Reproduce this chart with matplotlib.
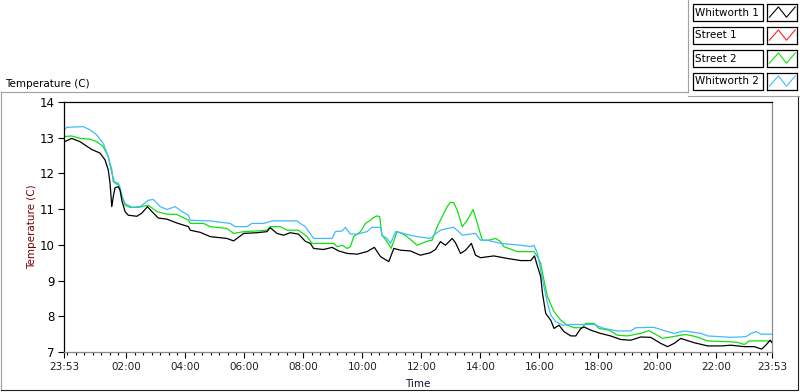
import matplotlib
matplotlib.use('Agg')
import matplotlib.pyplot as plt
from matplotlib.lines import Line2D
from matplotlib.patches import Rectangle

# hours since 23:53 (start of log)
w1_t = [0.0, 0.26, 0.54, 0.94, 1.22, 1.39, 1.50, 1.56, 1.62, 1.67, 1.73, 1.84, 1.90, 1.96,
        2.07, 2.18, 2.47, 2.64, 2.83, 2.98, 3.20, 3.49, 3.83, 4.22, 4.28, 4.62, 4.96, 5.52,
        5.75, 6.09, 6.54, 6.88, 6.99, 7.22, 7.44, 7.67, 7.95, 8.18, 8.35, 8.46, 8.80, 9.09,
        9.31, 9.60, 9.94, 10.27, 10.52, 10.73, 11.01, 11.18, 11.41, 11.74, 12.08, 12.42,
        12.59, 12.76, 12.93, 13.16, 13.27, 13.44, 13.61, 13.81, 13.95, 14.12, 14.57, 15.03,
        15.48, 15.82, 15.95, 16.02, 16.16, 16.22, 16.33, 16.50, 16.61, 16.78, 16.95, 17.18,
        17.35, 17.52, 17.63, 17.86, 18.19, 18.53, 18.87, 19.21, 19.55, 19.89, 20.23, 20.46,
        20.68, 20.91, 21.36, 21.82, 22.27, 22.61, 23.06, 23.40, 23.65, 23.79, 23.94, 24.0]
w1_v = [12.88, 12.98, 12.89, 12.67, 12.57, 12.38, 12.10, 11.73, 11.07, 11.35, 11.60, 11.63,
        11.53, 11.25, 10.93, 10.83, 10.80, 10.89, 11.07, 10.93, 10.75, 10.72, 10.61, 10.51,
        10.41, 10.35, 10.23, 10.18, 10.11, 10.32, 10.34, 10.37, 10.48, 10.32, 10.27, 10.34,
        10.30, 10.10, 10.04, 9.90, 9.87, 9.93, 9.83, 9.76, 9.74, 9.81, 9.93, 9.67, 9.53,
        9.90, 9.85, 9.83, 9.71, 9.78, 9.87, 10.09, 9.99, 10.18, 10.06, 9.76, 9.85, 10.04,
        9.71, 9.64, 9.69, 9.62, 9.56, 9.56, 9.69, 9.48, 9.11, 8.64, 8.08, 7.89, 7.66, 7.75,
        7.57, 7.45, 7.45, 7.66, 7.70, 7.61, 7.52, 7.45, 7.35, 7.33, 7.42, 7.41, 7.24, 7.15,
        7.24, 7.38, 7.26, 7.17, 7.17, 7.19, 7.15, 7.15, 7.08, 7.19, 7.33, 7.26]

s1_t = []
s1_v = []

s2_t = [0.0, 0.26, 0.54, 0.88, 1.11, 1.33, 1.50, 1.62, 1.67, 1.84, 1.96, 2.07, 2.24, 2.52,
        2.75, 2.86, 3.15, 3.49, 3.83, 4.22, 4.28, 4.73, 4.96, 5.52, 5.75, 6.09, 6.54, 6.88,
        6.99, 7.33, 7.56, 7.95, 8.24, 8.41, 9.14, 9.26, 9.43, 9.60, 9.71, 9.82, 10.05, 10.22,
        10.39, 10.48, 10.61, 10.70, 10.78, 10.95, 11.09, 11.29, 11.46, 11.63, 11.97, 12.37,
        12.48, 12.65, 12.82, 12.99, 13.10, 13.21, 13.33, 13.50, 13.67, 13.87, 14.01, 14.18,
        14.40, 14.63, 14.80, 14.91, 15.37, 15.93, 16.05, 16.16, 16.27, 16.39, 16.61, 16.84,
        17.06, 17.29, 17.57, 17.68, 17.97, 18.14, 18.48, 18.76, 19.10, 19.55, 19.83, 20.00,
        20.29, 20.91, 21.08, 21.42, 21.82, 22.49, 22.83, 23.06, 23.23, 24.0]
s2_v = [13.03, 13.05, 12.98, 12.96, 12.89, 12.75, 12.47, 12.10, 11.77, 11.72, 11.39, 11.11,
        11.05, 11.05, 11.09, 11.11, 10.93, 10.86, 10.85, 10.69, 10.60, 10.60, 10.51, 10.46,
        10.32, 10.37, 10.39, 10.41, 10.51, 10.51, 10.41, 10.41, 10.23, 10.04, 10.04, 9.95,
        9.99, 9.90, 9.95, 10.23, 10.37, 10.60, 10.69, 10.76, 10.81, 10.79, 10.27, 10.09,
        9.90, 10.37, 10.32, 10.23, 9.99, 10.12, 10.13, 10.51, 10.79, 11.07, 11.19, 11.18,
        10.97, 10.51, 10.69, 10.99, 10.60, 10.13, 10.13, 10.18, 10.09, 9.95, 9.81, 9.81,
        9.67, 9.48, 9.01, 8.55, 8.13, 7.89, 7.75, 7.68, 7.68, 7.80, 7.80, 7.66, 7.61, 7.47,
        7.45, 7.52, 7.60, 7.52, 7.38, 7.47, 7.49, 7.43, 7.31, 7.29, 7.27, 7.21, 7.31, 7.31]

w2_t = [0.0, 0.09, 0.66, 0.88, 1.11, 1.33, 1.50, 1.62, 1.73, 1.88, 1.96, 2.07, 2.30, 2.58,
        2.86, 3.03, 3.26, 3.49, 3.77, 4.00, 4.22, 4.28, 4.96, 5.63, 5.80, 6.20, 6.37, 6.77,
        7.05, 7.90, 8.01, 8.18, 8.46, 9.09, 9.20, 9.43, 9.54, 9.71, 9.94, 10.27, 10.44,
        10.73, 10.78, 10.95, 11.07, 11.24, 11.41, 11.74, 11.97, 12.42, 12.54, 12.76, 12.99,
        13.21, 13.38, 13.50, 13.95, 14.12, 14.35, 14.80, 15.48, 15.82, 15.93, 16.05, 16.16,
        16.27, 16.39, 16.50, 16.67, 16.89, 17.18, 17.97, 18.31, 18.76, 19.21, 19.38, 20.00,
        20.46, 20.68, 21.02, 21.59, 21.82, 22.61, 23.12, 23.29, 23.46, 23.63, 24.0]
w2_v = [13.22, 13.29, 13.31, 13.22, 13.08, 12.84, 12.47, 12.00, 11.72, 11.67, 11.35, 11.16,
        11.05, 11.07, 11.25, 11.27, 11.07, 10.99, 11.07, 10.93, 10.83, 10.69, 10.67, 10.60,
        10.51, 10.51, 10.60, 10.60, 10.67, 10.67, 10.60, 10.51, 10.18, 10.18, 10.37, 10.39,
        10.49, 10.30, 10.30, 10.37, 10.49, 10.49, 10.27, 10.18, 10.04, 10.37, 10.34, 10.27,
        10.23, 10.18, 10.27, 10.41, 10.46, 10.49, 10.37, 10.27, 10.32, 10.13, 10.13, 10.04,
        9.99, 9.95, 9.99, 9.76, 9.29, 8.83, 8.36, 8.03, 7.85, 7.75, 7.77, 7.77, 7.66, 7.59,
        7.59, 7.68, 7.69, 7.57, 7.52, 7.59, 7.52, 7.45, 7.41, 7.43, 7.52, 7.57, 7.50, 7.50]

series_names = ['Whitworth 1', 'Street 1', 'Street 2', 'Whitworth 2']
series_colors = ['#000000', '#ff2020', '#10e010', '#40baff']

tick_pos = [0.0, 2.117, 4.117, 6.117, 8.117, 10.117, 12.117, 14.117, 16.117, 18.117,
            20.117, 22.117, 24.0]
tick_labels = ['23:53', '02:00', '04:00', '06:00', '08:00', '10:00', '12:00', '14:00',
               '16:00', '18:00', '20:00', '22:00', '23:53']

plt.rcParams['font.family'] = ['DejaVu Sans']
plt.rcParams['font.size'] = 7.5

W, H = 800, 392
fig = plt.figure(figsize=(W / 100, H / 100), dpi=100)


def fx(px):
    return px / W


def fy(py):
    return 1 - py / H


# chart panel frame
fig.add_artist(Line2D([fx(1), fx(688)], [fy(91.5), fy(91.5)], color='#a0a0a0', lw=0.8))
fig.add_artist(Line2D([fx(1), fx(1)], [fy(91.5), fy(389)], color='#a0a0a0', lw=0.8))
fig.add_artist(Line2D([fx(1), fx(797)], [fy(389.5), fy(389.5)], color='#202020', lw=0.8))
fig.add_artist(Line2D([fx(797.5), fx(797.5)], [fy(96), fy(389.5)], color='#202020', lw=0.8))
# legend panel frame
fig.add_artist(Line2D([fx(688), fx(688)], [fy(0), fy(91.5)], color='#a0a0a0', lw=0.8))
fig.add_artist(Line2D([fx(688), fx(800)], [fy(96), fy(96)], color='#a0a0a0', lw=0.8))

fig.text(fx(5), fy(87), 'Temperature (C)', ha='left', va='baseline', fontsize=7.5)

ax = fig.add_axes([fx(64), fy(352), fx(772) - fx(64), fy(102) - fy(352)])
for name, t, v, c in [('Whitworth 1', w1_t, w1_v, series_colors[0]),
                      ('Street 1', s1_t, s1_v, series_colors[1]),
                      ('Street 2', s2_t, s2_v, series_colors[2]),
                      ('Whitworth 2', w2_t, w2_v, series_colors[3])]:
    ax.plot(t, v, color=c, lw=0.9, label=name)
# black on top like the original
ax.lines[0].set_zorder(3)

ax.set_xlim(0, 24)
ax.set_ylim(7, 14)
ax.set_xticks(tick_pos)
ax.set_xticklabels(tick_labels)
minor = [0.117 + k * 2 / 7 for k in range(84) if 0.117 + k * 2 / 7 <= 24]
ax.set_xticks(minor, minor=True)
ax.set_yticks(range(7, 15))
ax.tick_params(axis='y', length=4, width=0.8, pad=3, labelsize=8.5)
ax.tick_params(axis='x', which='major', length=4, width=0.8, pad=3, labelsize=7.5,
               labelcolor='#202020')
ax.tick_params(axis='x', which='minor', length=2, width=0.8)
ax.spines['left'].set_color('black')
ax.spines['top'].set_color('black')
ax.spines['right'].set_color('#8a8a8a')
ax.spines['bottom'].set_color('#8a8a8a')
for s in ax.spines.values():
    s.set_linewidth(0.9)

fig.text(fx(32), fy(227), 'Temperature (C)', rotation=90, ha='center', va='center',
         color='#7a0000', fontsize=7.5)
fig.text(fx(418), fy(384), 'Time', ha='center', va='center', color='#101030', fontsize=7.5)

# legend rows (LabVIEW style plot legend)
row_tops = [4, 27, 50, 73]
for name, c, top in zip(series_names, series_colors, row_tops):
    fig.add_artist(Rectangle((fx(692.5), fy(top + 16.5)), fx(762.5) - fx(692.5), 16.5 / H,
                             transform=fig.transFigure, facecolor='white', edgecolor='black',
                             lw=0.9))
    fig.text(fx(695), fy(top + 8.5), name, ha='left', va='center', fontsize=7.5)
    lax = fig.add_axes([fx(767), fy(top + 16.5), fx(797) - fx(767), 16.5 / H])
    lax.plot([0.08, 0.38, 0.65, 0.94], [0.2, 0.82, 0.2, 0.82], color=c, lw=0.8)
    lax.set_xlim(0, 1)
    lax.set_ylim(0, 1)
    lax.set_xticks([])
    lax.set_yticks([])
    for s in lax.spines.values():
        s.set_linewidth(0.9)

fig.savefig('out.png', dpi=100)
